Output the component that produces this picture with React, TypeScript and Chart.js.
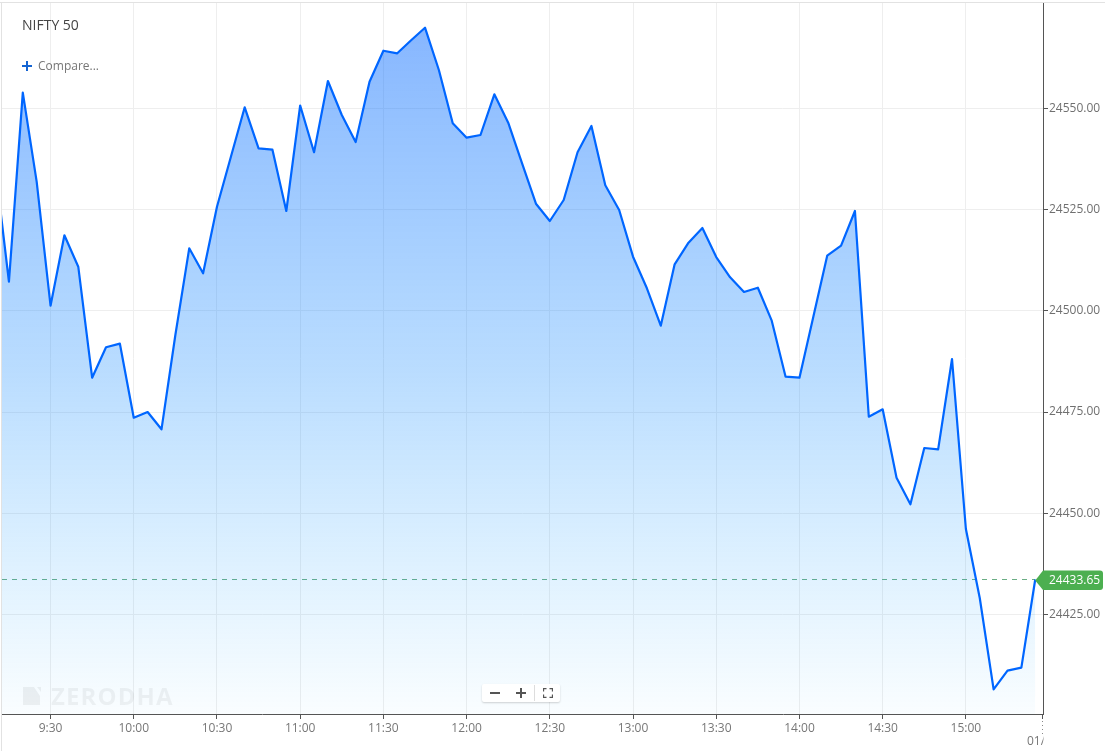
import React, { useEffect, useRef } from "react";
import { Chart, registerables } from "chart.js";

Chart.register(...registerables);

const times = [
  "9:10","9:15","9:20","9:25","9:30","9:35","9:40","9:45","9:50","9:55",
  "10:00","10:05","10:10","10:15","10:20","10:25","10:30","10:35","10:40","10:45","10:50","10:55",
  "11:00","11:05","11:10","11:15","11:20","11:25","11:30","11:35","11:40","11:45","11:50","11:55",
  "12:00","12:05","12:10","12:15","12:20","12:25","12:30","12:35","12:40","12:45","12:50","12:55",
  "13:00","13:05","13:10","13:15","13:20","13:25","13:30","13:35","13:40","13:45","13:50","13:55",
  "14:00","14:05","14:10","14:15","14:20","14:25","14:30","14:35","14:40","14:45","14:50","14:55",
  "15:00","15:05","15:10","15:15","15:20","15:25",
];
const prices = [
  24536,24507.19,24553.85,24531.88,24501.26,24518.64,24510.89,24483.48,24490.99,24491.88,
  24473.6,24475.01,24470.74,24494.02,24515.43,24509.26,24525.7,24537.98,24550.25,24540.12,24539.78,24524.64,
  24550.69,24539.14,24556.74,24548.35,24541.68,24556.57,24564.22,24563.58,24566.79,24569.9,24559.46,24546.3,
  24542.74,24543.41,24553.46,24546.44,24536.42,24526.44,24522.17,24527.36,24539.14,24545.63,24530.99,24524.89,
  24513.36,24505.56,24496.32,24511.48,24516.81,24520.44,24513.28,24508.27,24504.64,24505.7,24497.56,24483.73,
  24483.48,24498.54,24513.6,24516.07,24524.64,24473.85,24475.68,24458.79,24452.22,24466.12,24465.8,24488.1,
  24446.12,24429.09,24406.54,24411.14,24411.88,24433.65,
];
const yTicks = [24425, 24450, 24475, 24500, 24525, 24550];
const xTickLabels = ["9:30","10:00","10:30","11:00","11:30","12:00","12:30","13:00","13:30","14:00","14:30","15:00"];
const nextDayLabel = "01/";
const chartTitle = "NIFTY 50";
const compareLabel = "Compare...";
const watermark = "ZERODHA";

const FONT = '"Open Sans"';
const toMin = (t: string) => {
  const [h, m] = t.split(":").map(Number);
  return h * 60 + m;
};
const toLabel = (v: number) => `${Math.floor(v / 60)}:${String(v % 60).padStart(2, "0")}`;

const framePlugin = {
  id: "frame",
  beforeDraw(chart: any) {
    const { ctx, width, height } = chart;
    ctx.save();
    ctx.fillStyle = "#e2e2e2";
    ctx.fillRect(0, 2, width, 1);
    ctx.fillRect(1, 2, 1, height - 2);
    ctx.restore();
  },
  afterDraw(chart: any) {
    const { ctx, scales, chartArea } = chart;
    const last = prices[prices.length - 1];
    const py = Math.round(scales.y.getPixelForValue(last)) + 0.5;
    const tip = scales.x.getPixelForValue(toMin(times[times.length - 1]));
    ctx.save();
    ctx.fillStyle = "#4caf50";
    const top = py - 10, bot = py + 9.5, right = 1103, base = chartArea.right, r = 3;
    ctx.beginPath();
    ctx.moveTo(tip, py);
    ctx.lineTo(base, top);
    ctx.lineTo(right - r, top);
    ctx.quadraticCurveTo(right, top, right, top + r);
    ctx.lineTo(right, bot - r);
    ctx.quadraticCurveTo(right, bot, right - r, bot);
    ctx.lineTo(base, bot);
    ctx.closePath();
    ctx.fill();
    ctx.fillStyle = "#ffffff";
    ctx.font = `12px ${FONT}`;
    ctx.textAlign = "left";
    ctx.textBaseline = "middle";
    ctx.fillText(last.toFixed(2), chartArea.right + 6, py);

    const x = Math.round(chartArea.right) - 0.5;
    ctx.strokeStyle = "#555555";
    ctx.lineWidth = 1;
    ctx.beginPath();
    ctx.moveTo(x, chartArea.bottom);
    ctx.lineTo(x, chartArea.bottom + 5);
    ctx.stroke();
    ctx.setLineDash([1, 3]);
    ctx.strokeStyle = "#888888";
    ctx.beginPath();
    ctx.moveTo(x, chartArea.bottom + 7);
    ctx.lineTo(x, chartArea.bottom + 20);
    ctx.stroke();
    ctx.setLineDash([]);
    ctx.beginPath();
    ctx.rect(0, chartArea.bottom, chartArea.right + 0.5, 37);
    ctx.clip();
    ctx.fillStyle = "#777777";
    ctx.fillText(nextDayLabel, chartArea.right - 16, chartArea.bottom + 28);
    ctx.restore();
  },
};

export default function App() {
  const ref = useRef<HTMLCanvasElement>(null);
  useEffect(() => {
    const mins = times.map(toMin);
    const points = mins.map((x, i) => ({ x, y: prices[i] }));
    const last = prices[prices.length - 1];
    const chart = new Chart(ref.current!, {
      type: "line",
      data: {
        datasets: [
          {
            data: points,
            borderColor: "#0066ff",
            borderWidth: 2.2,
            borderJoinStyle: "round",
            pointRadius: 0,
            tension: 0,
            fill: "start",
            order: 1,
            backgroundColor: (c: any) => {
              const a = c.chart.chartArea;
              if (!a) return "transparent";
              const g = c.chart.ctx.createLinearGradient(0, a.top + 24, 0, a.bottom);
              g.addColorStop(0, "rgba(15,110,255,0.5)");
              g.addColorStop(0.5, "rgba(25,140,255,0.3)");
              g.addColorStop(1, "rgba(30,170,255,0.025)");
              return g;
            },
          },
          {
            data: [
              { x: 552.5, y: last },
              { x: mins[mins.length - 1], y: last },
            ],
            borderColor: "#6aae84",
            borderWidth: 1,
            borderDash: [5, 5],
            pointRadius: 0,
            fill: false,
            order: 2,
          },
        ],
      },
      options: {
        responsive: false,
        animation: false,
        devicePixelRatio: 1,
        layout: { padding: { left: 2, top: 3, right: 0, bottom: 0 } },
        plugins: { legend: { display: false }, tooltip: { enabled: false }, title: { display: false } },
        scales: {
          x: {
            type: "linear",
            min: 552.5,
            max: 927.8,
            afterBuildTicks: (s: any) => {
              s.ticks = xTickLabels.map((t) => ({ value: toMin(t) }));
            },
            afterFit: (s: any) => {
              s.height = 37;
              s.paddingLeft = 0;
              s.paddingRight = 0;
            },
            grid: { color: "#eeeeee", tickColor: "#555555", tickLength: 5, lineWidth: 1 },
            border: { display: true, color: "#555555", width: 1 },
            ticks: {
              autoSkip: false,
              maxRotation: 0,
              color: "#777777",
              padding: 2,
              font: { family: FONT, size: 12 },
              callback: (v: any) => toLabel(Number(v)),
            },
          },
          y: {
            type: "linear",
            position: "right",
            min: 24400.44,
            max: 24576,
            afterBuildTicks: (s: any) => {
              s.ticks = yTicks.map((value) => ({ value }));
            },
            afterFit: (s: any) => {
              s.width = 62;
              s.paddingTop = 0;
              s.paddingBottom = 0;
            },
            grid: { color: "#eeeeee", tickColor: "#555555", tickLength: 5, lineWidth: 1 },
            border: { display: true, color: "#555555", width: 1 },
            ticks: {
              color: "#707070",
              padding: 1,
              font: { family: FONT, size: 12 },
              callback: (v: any) => Number(v).toFixed(2),
            },
          },
        },
      },
      plugins: [framePlugin],
    } as any);
    return () => chart.destroy();
  }, []);

  const abs = (o: React.CSSProperties): React.CSSProperties => ({ position: "absolute", ...o });
  return (
    <div style={abs({ left: 0, top: 0, width: 1105, height: 751, overflow: "hidden", fontFamily: FONT, background: "#fff" })}>
      <canvas ref={ref} width={1105} height={751} style={{ display: "block", width: 1105, height: 751 }} />
      <div style={abs({ left: 22, top: 15, fontSize: 14, lineHeight: "20px", color: "#444" })}>{chartTitle}</div>
      <div style={abs({ left: 22, top: 65, width: 10, height: 2, background: "#1464d2" })} />
      <div style={abs({ left: 26, top: 61, width: 2, height: 10, background: "#1464d2" })} />
      <div style={abs({ left: 38, top: 57, fontSize: 12, lineHeight: "18px", color: "#777" })}>{compareLabel}</div>
      <svg width={20} height={20} style={abs({ left: 22, top: 686 })}>
        <path d="M1 1 H12 L18 10 V19 H1 Z M15 1 H19 V6 Z" fill="rgba(0,0,0,0.055)" />
      </svg>
      <div style={abs({ left: 51, top: 680, fontSize: 24, lineHeight: "32px", fontWeight: 700, letterSpacing: 1.1, color: "rgba(0,0,0,0.05)" })}>{watermark}</div>
      <div style={abs({ left: 482, top: 684, width: 78, height: 18, background: "#fff", borderRadius: 2, boxShadow: "0 1px 2px rgba(0,0,0,0.18)" })}>
        <div style={abs({ left: 8, top: 8, width: 10, height: 2, background: "#555" })} />
        <div style={abs({ left: 34, top: 8, width: 10, height: 2, background: "#555" })} />
        <div style={abs({ left: 38, top: 4, width: 2, height: 10, background: "#555" })} />
        <div style={abs({ left: 52, top: 1, width: 1, height: 16, background: "#ddd" })} />
        <svg width={10} height={10} style={abs({ left: 61, top: 4 })}>
          <path d="M0.5 3.5V0.5H3.5M6.5 0.5H9.5V3.5M9.5 6.5V9.5H6.5M3.5 9.5H0.5V6.5" fill="none" stroke="#555" strokeWidth={1.3} />
        </svg>
      </div>
    </div>
  );
}
